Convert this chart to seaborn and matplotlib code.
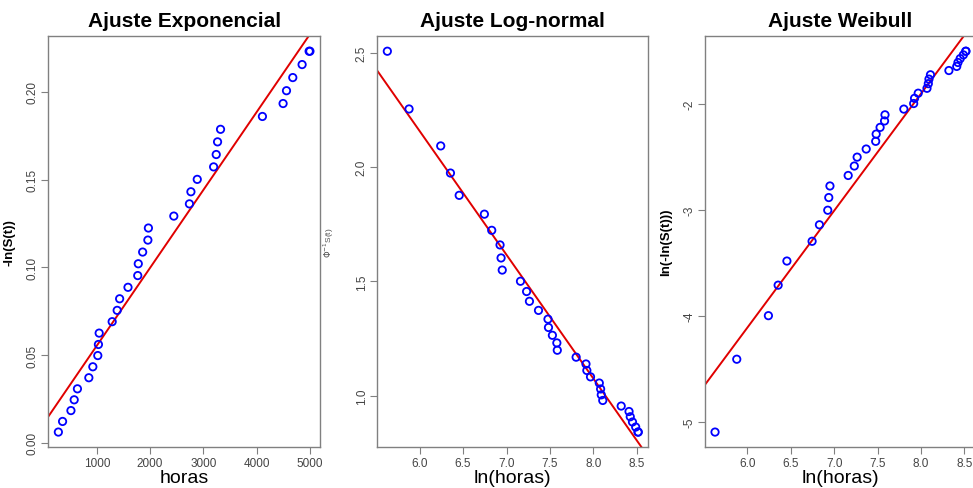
# Gráficos de ajuste (exponencial, log-normal y Weibull) para los tiempos de falla

from statistics import NormalDist
import numpy as np
import pandas as pd
import matplotlib
matplotlib.use("Agg")
import matplotlib.pyplot as plt
import seaborn as sns

# tiempos de falla observados (horas)
horas = [278, 357, 514, 575, 636, 850, 925, 1018, 1030, 1044,
         1288, 1382, 1428, 1585, 1768, 1778, 1860, 1958, 1968, 2445,
         2738, 2766, 2885, 3192, 3241, 3266, 3322, 4108, 4496, 4560,
         4678, 4853, 4985, 5000]

# supervivencia estimada S(t) en cada tiempo
supervivencia = [0.9939, 0.9879, 0.9818, 0.9758, 0.9697, 0.9636, 0.9576, 0.9515, 0.9455, 0.9394,
                 0.9333, 0.9273, 0.9212, 0.9152, 0.9091, 0.9030, 0.8970, 0.8909, 0.8848, 0.8788,
                 0.8727, 0.8667, 0.8606, 0.8545, 0.8485, 0.8424, 0.8364, 0.8303, 0.8242, 0.8182,
                 0.8121, 0.8061, 0.8000, 0.8000]

# rectas ajustadas (intercepto, pendiente) de cada modelo
recta_exponencial = [0.0110, 4.437e-5]
recta_lognormal = [5.402, -0.5408]
recta_weibull = [-10.74, 1.105]

titulos = ["Ajuste Exponencial", "Ajuste Log-normal", "Ajuste Weibull"]
ticks_exp_x = [1000, 2000, 3000, 4000, 5000]
ticks_exp_y = [0.00, 0.05, 0.10, 0.15, 0.20]
ticks_log_x = [6.0, 6.5, 7.0, 7.5, 8.0, 8.5]
ticks_lognorm_y = [1.0, 1.5, 2.0, 2.5]
ticks_weib_y = [-5, -4, -3, -2]

# transformaciones de los datos
t = np.array(horas, dtype=float)
s = np.array(supervivencia, dtype=float)
df = pd.DataFrame({
    "horas": t,
    "ln_horas": np.log(t),
    "menos_ln_s": -np.log(s),
    "qnorm_s": [NormalDist().inv_cdf(v) for v in s],
    "ln_menos_ln_s": np.log(-np.log(s)),
})

sns.set_style("white")
plt.rcParams['font.family'] = ['Liberation Sans', 'DejaVu Sans']
plt.rcParams['axes.unicode_minus'] = False
plt.rcParams['text.color'] = 'black'
plt.rcParams['axes.labelcolor'] = 'black'

GRIS = "#808080"
TEXTO_TICKS = "#444444"


def limites(valores, margen=0.04):
    """Rango con 4% extra a cada lado, como hace R."""
    lo, hi = float(np.min(valores)), float(np.max(valores))
    r = hi - lo
    return lo - margen * r, hi + margen * r


def panel(ax, xcol, ycol, recta, titulo, xlabel, ylabel, xticks, yticks, yfmt,
          ylabel_kw):
    sns.scatterplot(data=df, x=xcol, y=ycol, ax=ax, marker="o", s=28,
                    facecolors="none", edgecolors="blue", linewidth=1.3,
                    zorder=3)
    ax.axline((0, recta[0]), slope=recta[1], color="#e00000", lw=1.4, zorder=2)
    ax.set_xlim(*limites(df[xcol]))
    ax.set_ylim(*limites(df[ycol]))
    ax.set_xticks(xticks)
    ax.set_yticks(yticks)
    ax.set_yticklabels([yfmt.format(v) for v in yticks], rotation=90, va="center")
    ax.tick_params(axis="both", direction="out", length=5, width=0.8, color=GRIS,
                   labelsize=8.5, labelcolor=TEXTO_TICKS, pad=2,
                   bottom=True, left=True)
    for lado in ax.spines.values():
        lado.set_color(GRIS)
        lado.set_linewidth(1.0)
    ax.set_title(titulo, fontsize=15, fontweight="bold", pad=7, color="black")
    ax.set_xlabel(xlabel, fontsize=14, labelpad=0, color="black")
    ax.set_ylabel(ylabel, **ylabel_kw)


fig = plt.figure(figsize=(9.73, 4.89), dpi=100)
alto = (448.3 - 37.0) / 489
base = 1 - 448.3 / 489
ax1 = fig.add_axes([48.3 / 973, base, 271.7 / 973, alto])
ax2 = fig.add_axes([377.3 / 973, base, 271.0 / 973, alto])
ax3 = fig.add_axes([705.0 / 973, base, 271.0 / 973, alto])

panel(ax1, "horas", "menos_ln_s", recta_exponencial, titulos[0], "horas",
      "-ln(S(t))", ticks_exp_x, ticks_exp_y, "{:.2f}",
      dict(fontsize=9.5, fontweight="bold", labelpad=8, color="black"))
panel(ax2, "ln_horas", "qnorm_s", recta_lognormal, titulos[1], "ln(horas)",
      r"$\Phi^{-1}$S(t)", ticks_log_x, ticks_lognorm_y, "{:.1f}",
      dict(fontsize=6, color="#505050", labelpad=14))
panel(ax3, "ln_horas", "ln_menos_ln_s", recta_weibull, titulos[2], "ln(horas)",
      "ln(-ln(S(t)))", ticks_log_x, ticks_weib_y, "{:d}",
      dict(fontsize=9.5, fontweight="bold", labelpad=8, color="black"))

fig.savefig("out.png", dpi=100)
